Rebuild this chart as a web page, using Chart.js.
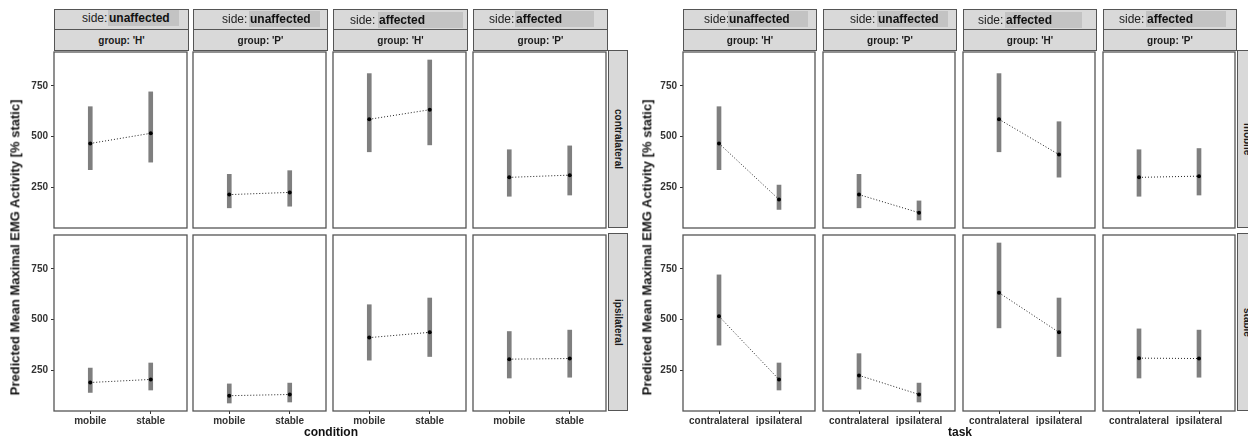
<!DOCTYPE html>
<html>
<head>
<meta charset="utf-8">
<script src="https://cdn.jsdelivr.net/npm/chart.js@4.4.1/dist/chart.umd.min.js"></script>
<style>
body { margin: 0; background: #fff; width: 1248px; height: 439px; overflow: hidden; position: relative;
       font-family: 'Liberation Sans', Arial, sans-serif; }
.strip { position: absolute; box-sizing: border-box; background: #d9d9d9; border: 1px solid #555;
         color: #1a1a1a; font-weight: bold; font-size: 10px; display: flex; align-items: center; justify-content: center; }
.vert { writing-mode: vertical-rl; font-size: 10px; }
.side { position: absolute; font-size: 12px; color: #222; line-height: 16px; }
.sidebox { position: absolute; background: #c3c3c3; font-size: 12px; font-weight: bold; color: #111; line-height: 16px; padding-left: 1px; box-sizing: border-box; }
.title { position: absolute; font-weight: bold; color: #111; white-space: nowrap; }
</style>
</head>
<body>
<script>
const sides = ['unaffected', 'unaffected', 'affected', 'affected'];
const groups = ["'H'", "'P'", "'H'", "'P'"];
const conditions = ['mobile', 'stable'];
const tasks = ['contralateral', 'ipsilateral'];
const yTicks = [250, 500, 750];

// predicted means + interval, one value per facet column (H unaff, P unaff, H aff, P aff)
const contraMobile     = [466, 214, 585, 299];
const contraMobileLow  = [337, 149, 425, 206];
const contraMobileHigh = [647, 314, 810, 435];
const contraStable     = [516, 225, 632, 310];
const contraStableLow  = [374, 157, 459, 212];
const contraStableHigh = [720, 332, 877, 454];
const ipsiMobile       = [190, 125, 411, 305];
const ipsiMobileLow    = [141,  89, 300, 212];
const ipsiMobileHigh   = [261, 183, 573, 441];
const ipsiStable       = [205, 131, 437, 308];
const ipsiStableLow    = [153,  94, 318, 216];
const ipsiStableHigh   = [286, 187, 606, 448];

const cells = {
    contralateral: { mobile: [contraMobile, contraMobileLow, contraMobileHigh],
                     stable: [contraStable, contraStableLow, contraStableHigh] },
    ipsilateral:   { mobile: [ipsiMobile, ipsiMobileLow, ipsiMobileHigh],
                     stable: [ipsiStable, ipsiStableLow, ipsiStableHigh] }
};

// shared y range, ggplot style 5% expansion
const allLow = Math.min(...contraMobileLow, ...contraStableLow, ...ipsiMobileLow, ...ipsiStableLow);
const allHigh = Math.max(...contraMobileHigh, ...contraStableHigh, ...ipsiMobileHigh, ...ipsiStableHigh);
const yMin = allLow - (allHigh - allLow) * 0.05;
const yMax = allHigh + (allHigh - allLow) * 0.05;

const TOPS = [50, 233];
const PH = 178;
const AXL = 40, AXB = 25;

const figs = [
    { lefts: [54, 193, 333, 473], w: 135, rows: tasks, cols: conditions, xTitle: 'condition', yTitleX: 15,
      sideBox: [[82, 108, 71, 10], [222, 249, 71, 11], [350, 378, 85, 12], [489, 515, 79, 11]] },
    { lefts: [683, 823, 963, 1103], w: 134, rows: conditions, cols: tasks, xTitle: 'task', yTitleX: 647,
      sideBox: [[704, 728, 80, 11], [850, 877, 71, 11], [978, 1005, 77, 12], [1119, 1146, 80, 11]] }
];

Chart.defaults.font.family = "'Liberation Sans', Arial, sans-serif";

const panelFrame = {
    id: 'panelFrame',
    beforeDraw(chart) {
        const a = chart.chartArea, c = chart.ctx;
        c.save();
        c.fillStyle = '#fff';
        c.fillRect(a.left, a.top, a.right - a.left, a.bottom - a.top);
        c.restore();
    },
    afterDraw(chart) {
        const a = chart.chartArea, c = chart.ctx;
        c.save();
        c.strokeStyle = '#555';
        c.lineWidth = 1.3;
        c.strokeRect(a.left, a.top, a.right - a.left, a.bottom - a.top);
        c.restore();
    }
};

function div(cls, css, text) {
    const d = document.createElement('div');
    d.className = cls;
    d.style.cssText = css;
    if (text) d.textContent = text;
    document.body.appendChild(d);
    return d;
}

function makePanel(fig, fi, row, col) {
    const left = fig.lefts[col], top = TOPS[row];
    const cv = document.createElement('canvas');
    cv.width = AXL + fig.w + 2;
    cv.height = PH + AXB + 2;
    cv.style.cssText = `position:absolute;left:${left - AXL}px;top:${top - 2}px`;
    document.body.appendChild(cv);

    const mids = [], bars = [];
    fig.cols.forEach((cat, i) => {
        const c = fi === 0 ? cells[fig.rows[row]][cat] : cells[cat][fig.rows[row]];
        mids.push({ x: i + 1, y: c[0][col] });
        bars.push({ x: i + 1, y: [c[1][col], c[2][col]] });
    });

    const showY = col === 0, showX = row === 1;
    const tickFont = { size: 10, weight: 'bold' };

    new Chart(cv, {
        type: 'bar',
        data: {
            datasets: [
                { type: 'line', data: mids, borderColor: '#222', borderWidth: 1, borderDash: [1, 2],
                  pointRadius: 2, pointBackgroundColor: '#000', pointBorderWidth: 0, order: 1 },
                { type: 'bar', data: bars, backgroundColor: '#7f7f7f', barThickness: 4, grouped: false, order: 2 }
            ]
        },
        options: {
            responsive: false,
            animation: false,
            layout: { padding: { top: 2, right: 2, left: 0, bottom: 0 } },
            plugins: { legend: { display: false }, tooltip: { enabled: false } },
            scales: {
                x: {
                    type: 'linear', min: 0.4, max: 2.6, offset: false,
                    afterFit: s => { s.height = AXB; s.paddingLeft = 0; s.paddingRight = 0; },
                    afterBuildTicks: s => { s.ticks = fig.cols.map((c, i) => ({ value: i + 1 })); },
                    ticks: { display: showX, callback: (v, i) => fig.cols[i], font: tickFont, color: '#333',
                             padding: 1, maxRotation: 0, minRotation: 0, autoSkip: false },
                    grid: { display: showX, offset: false, drawOnChartArea: false, tickLength: 3, color: '#333' },
                    border: { display: false }
                },
                y: {
                    type: 'linear', min: yMin, max: yMax,
                    afterFit: s => { s.width = AXL; s.paddingTop = 0; s.paddingBottom = 0; },
                    afterBuildTicks: s => { s.ticks = yTicks.map(v => ({ value: v })); },
                    ticks: { display: showY, font: tickFont, color: '#333', padding: 3 },
                    grid: { display: showY, offset: false, drawOnChartArea: false, tickLength: 3, color: '#333' },
                    border: { display: false }
                }
            }
        },
        plugins: [panelFrame]
    });
}

figs.forEach((fig, fi) => {
    for (let col = 0; col < 4; col++) {
        const x = fig.lefts[col];
        div('strip', `left:${x}px;top:9px;width:${fig.w}px;height:21px;`);
        div('strip', `left:${x}px;top:29px;width:${fig.w}px;height:22px;`, 'group: ' + groups[col]);
        const sb = fig.sideBox[col];
        div('side', `left:${sb[0]}px;top:${sb[3]}px;`, 'side:');
        div('sidebox', `left:${sb[1]}px;top:${sb[3]}px;width:${sb[2]}px;height:16px;`, sides[col]);
        for (let row = 0; row < 2; row++) makePanel(fig, fi, row, col);
    }
    const stripX = fig.lefts[3] + fig.w;
    for (let row = 0; row < 2; row++) {
        div('strip vert', `left:${stripX}px;top:${TOPS[row]}px;width:20px;height:${PH}px;`, fig.rows[row]);
    }
    const cx = (fig.lefts[0] + fig.lefts[3] + fig.w) / 2;
    const t = div('title', `font-size:12px;top:425px;`, fig.xTitle);
    t.style.left = (cx - t.offsetWidth / 2) + 'px';
    const yt = div('title', `font-size:13px;`, 'Predicted Mean Maximal EMG Activity [% static]');
    yt.style.left = (fig.yTitleX - yt.offsetWidth / 2) + 'px';
    yt.style.top = (247 - yt.offsetHeight / 2) + 'px';
    yt.style.transform = 'rotate(-90deg)';
});
</script>
</body>
</html>
